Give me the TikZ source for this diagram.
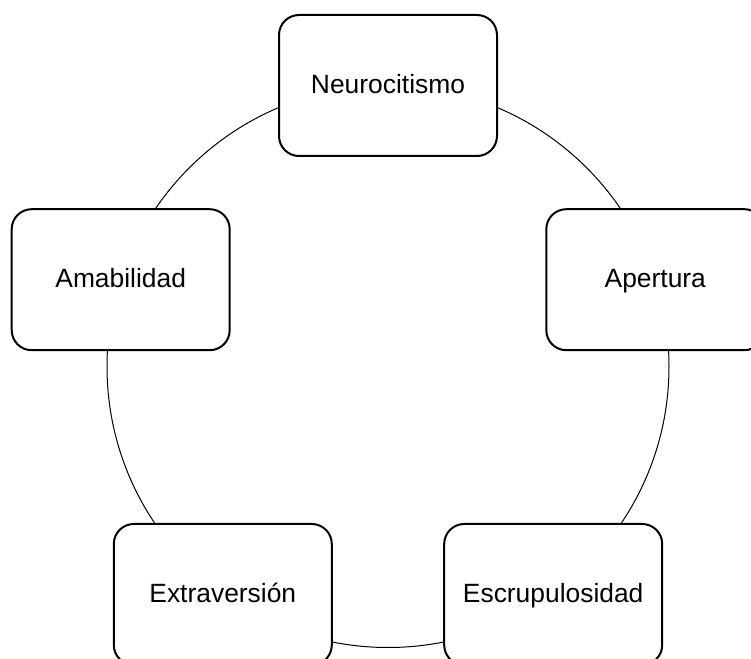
\documentclass[tikz,border=0pt]{standalone}
\usepackage{fontspec}
\setmainfont{Liberation Sans}
\begin{document}
\begin{tikzpicture}[x=0.75pt,y=-0.75pt,
  trait/.style={draw, fill=white, line width=1.5pt, rounded corners=15pt,
    minimum width=163.5pt, minimum height=105.75pt, inner sep=0pt,
    text height=1.2em, text depth=0pt,
    font=\fontsize{19.8pt}{24pt}\selectfont}]
\useasboundingbox (0,0) rectangle (751,659);
\begin{scope}
\clip (0,0) rectangle (751,659);
\coordinate (c) at (388,366.5);
\draw[line width=0.75pt] (c) circle[radius=281];
\node[trait] (n) at (388,85.5) {Neurocitismo};
\node[trait] (a) at (655.3,279.7) {Apertura};
\node[trait] (m) at (120.7,279.7) {Amabilidad};
\node[trait] (e) at (553.2,594.5) {Escrupulosidad};
\node[trait] (x) at (222.8,594.5) {Extraversión};
\end{scope}
\end{tikzpicture}
\end{document}
